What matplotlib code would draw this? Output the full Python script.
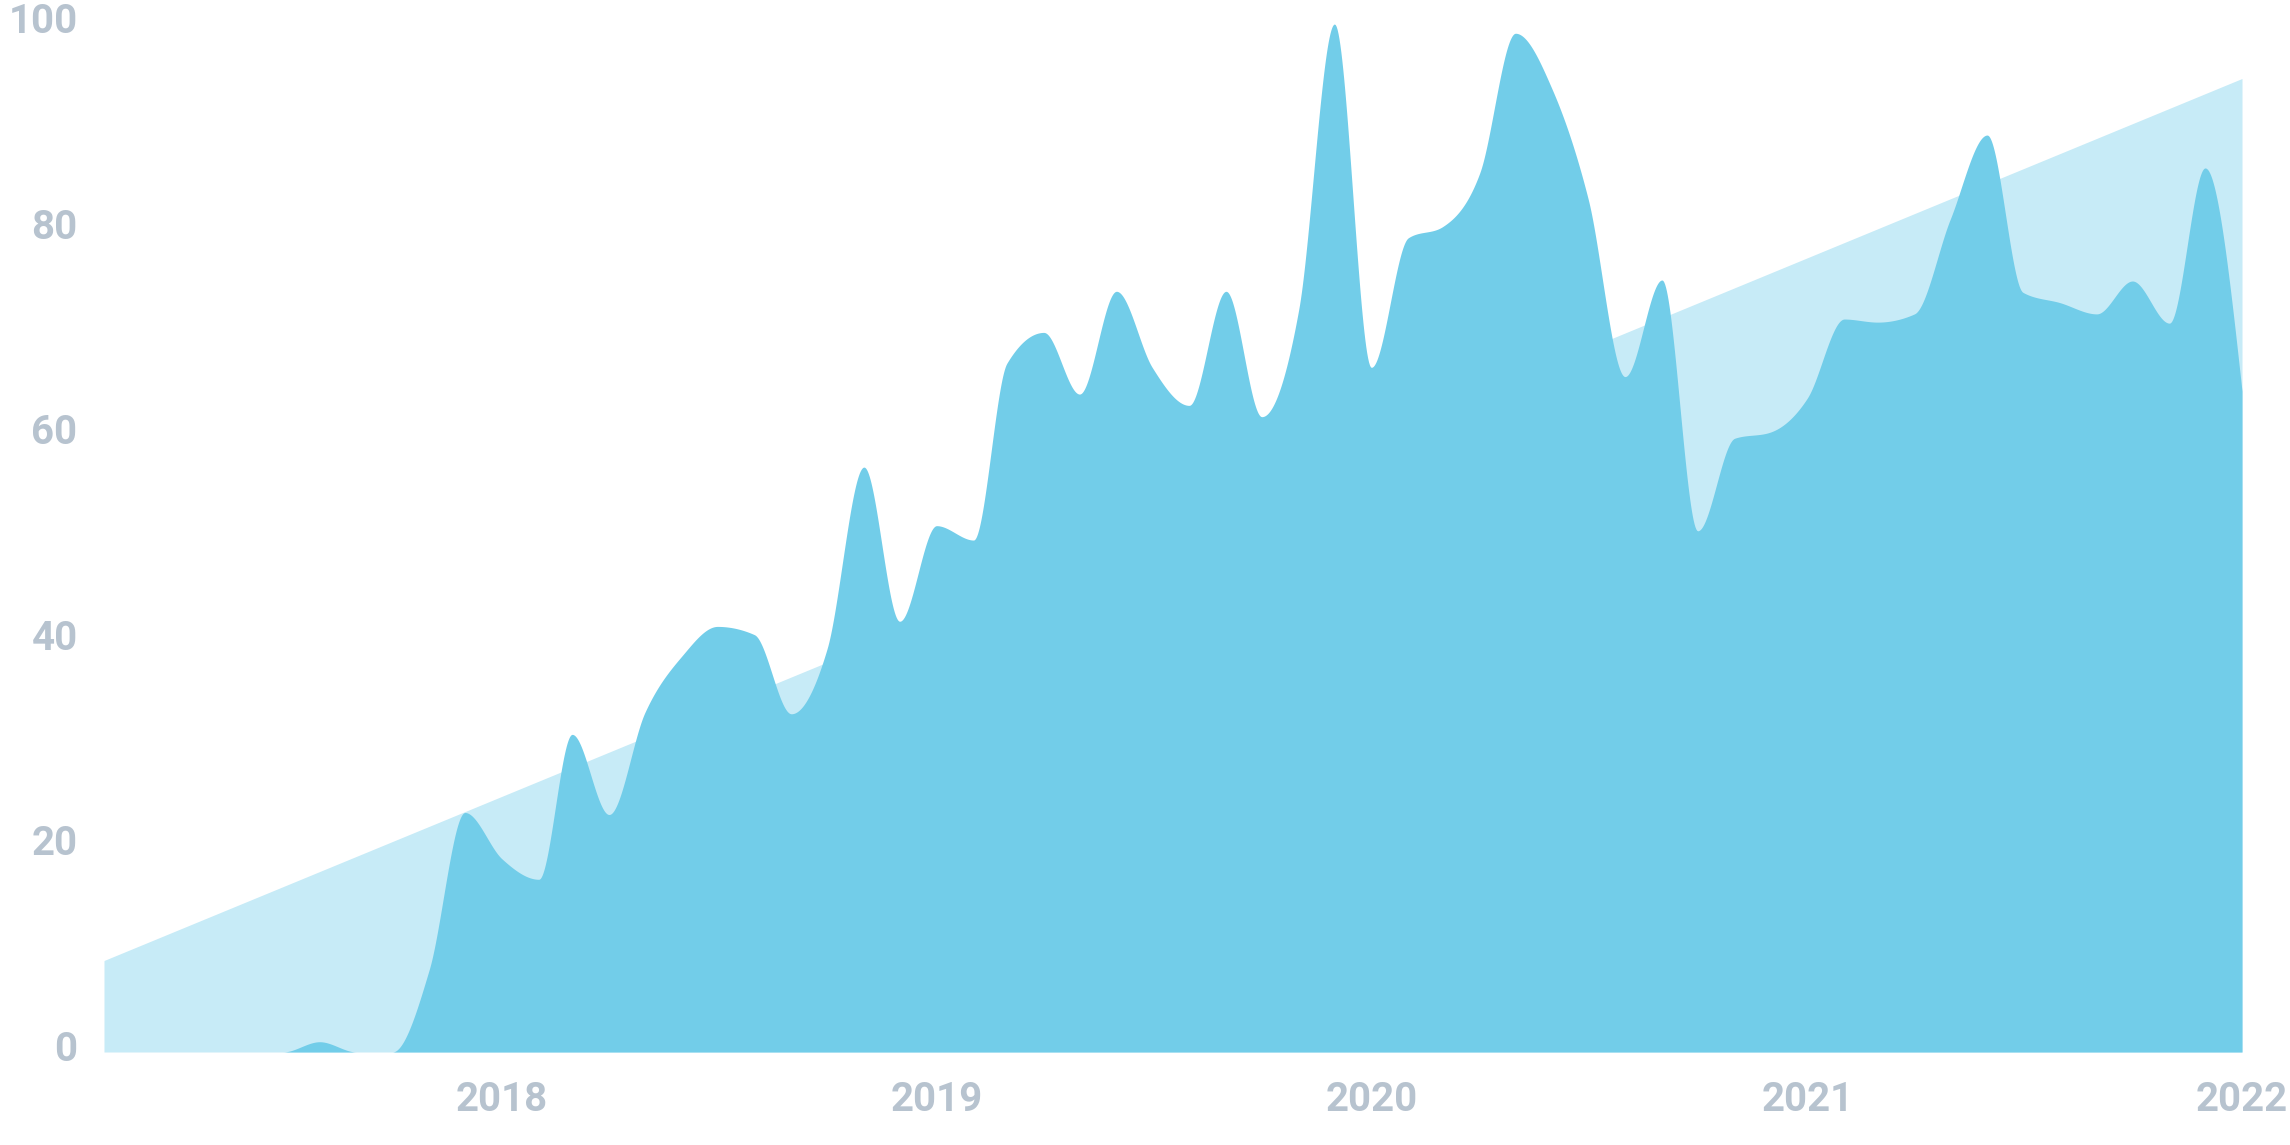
import numpy as np
import pandas as pd
import matplotlib
matplotlib.use("Agg")
import matplotlib.pyplot as plt
import matplotlib.dates as mdates
from matplotlib.transforms import ScaledTranslation

# monthly interest values, Feb 2017 .. Jan 2022
months = pd.date_range("2017-02-01", "2022-01-01", freq="MS")
interest = [0, 0, 0, 0, 0, 0, 1, 0, 0, 8,
            23.3, 18.8, 16.8, 30.9, 23.1, 33, 38.5, 41.4, 40.6, 32.9,
            39.2, 56.9, 41.9, 51.2, 49.8, 67, 70, 64, 74, 66.6,
            62.9, 74, 61.8, 72.2, 100, 66.6, 79.2, 80.3, 85.5, 99.1,
            93.6, 83, 65.7, 75.1, 50.7, 59.7, 60.3, 63.6, 71.3, 71.0,
            71.8, 81, 89.2, 73.9, 72.9, 71.8, 75, 70.9, 86, 64.3]
# trend line at first and last month
trend = [8.9, 94.7]
y_ticks = [0, 20, 40, 60, 80, 100]
year_labels = ["2018", "2019", "2020", "2021", "2022"]

DARK = "#72cde9"
LIGHT = "#c7ebf7"
LABEL = "#b7c3cf"


def monotone_curve(x, y, steps=40):
    # monotone cubic interpolation (same idea as d3.curveMonotoneX)
    x = np.asarray(x, float)
    y = np.asarray(y, float)
    n = len(x)
    h = np.diff(x)
    s = np.diff(y) / h
    m = np.zeros(n)
    for k in range(1, n - 1):
        s0, s1 = s[k - 1], s[k]
        p = (s0 * h[k] + s1 * h[k - 1]) / (h[k - 1] + h[k])
        sg = (1 if s0 >= 0 else -1) + (1 if s1 >= 0 else -1)
        m[k] = sg * min(abs(s0), abs(s1), 0.5 * abs(p))
    m[0] = (3 * s[0] - m[1]) / 2
    m[-1] = (3 * s[-1] - m[-2]) / 2
    xs, ys = [], []
    t = np.linspace(0, 1, steps, endpoint=False)
    for k in range(n - 1):
        h00 = 2 * t**3 - 3 * t**2 + 1
        h10 = t**3 - 2 * t**2 + t
        h01 = -2 * t**3 + 3 * t**2
        h11 = t**3 - t**2
        xs.append(x[k] + t * h[k])
        ys.append(h00 * y[k] + h10 * h[k] * m[k] + h01 * y[k + 1] + h11 * h[k] * m[k + 1])
    xs.append([x[-1]])
    ys.append([y[-1]])
    return np.concatenate(xs), np.concatenate(ys)


x = mdates.date2num(months)
cx, cy = monotone_curve(x, interest)

fig = plt.figure(figsize=(22.9, 11.45), dpi=100)
ax = fig.add_axes([104 / 2290, 93 / 1145, 2138 / 2290, 1028 / 1145])

ax.fill_between([x[0], x[-1]], [0, 0], trend, color=LIGHT, linewidth=0)
ax.fill_between(cx, 0, cy, color=DARK, linewidth=0)

ax.set_xlim(x[0], x[-1])
ax.set_ylim(0, 100)

for sp in ax.spines.values():
    sp.set_visible(False)

tick_font = dict(family=["Roboto", "DejaVu Sans"], weight="bold", size=29)

ax.set_yticks(y_ticks)
ax.set_yticklabels([str(v) for v in y_ticks], color=LABEL, **tick_font)
year_pos = mdates.date2num(pd.to_datetime([y + "-01-01" for y in year_labels]))
ax.set_xticks(year_pos)
ax.set_xticklabels(year_labels, color=LABEL, **tick_font)
ax.tick_params(axis="both", length=0)
ax.tick_params(axis="y", pad=19)
ax.tick_params(axis="x", pad=21)

offset = ScaledTranslation(0, 0.06, fig.dpi_scale_trans)
for lab in ax.get_yticklabels():
    lab.set_transform(lab.get_transform() + offset)

fig.savefig("out.png", dpi=100, facecolor="white")
